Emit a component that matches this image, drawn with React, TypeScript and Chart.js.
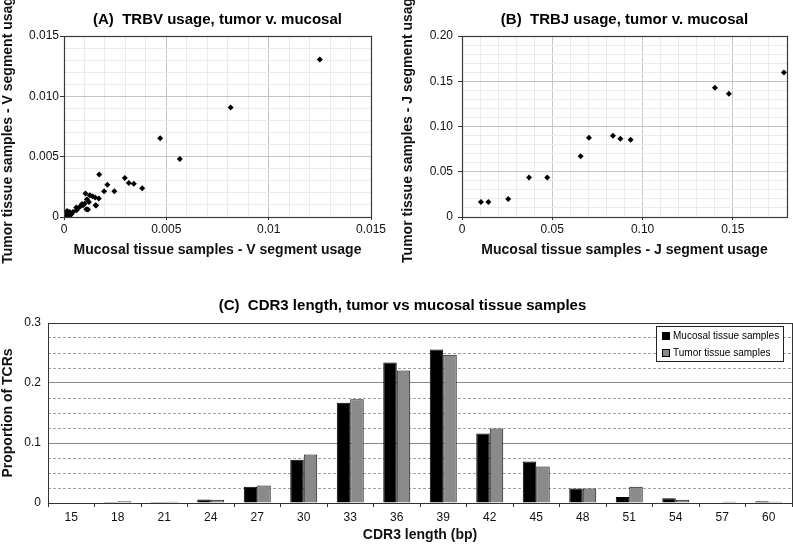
import React, { useEffect, useRef } from 'react';
import { Chart, registerables } from 'chart.js';

Chart.register(...registerables);

const FONT = '"Liberation Sans", Arial, Helvetica, sans-serif';
Chart.defaults.font.family = FONT;
Chart.defaults.color = '#111';

// ---------- Panel A: TRBV usage ----------
const A_TITLE = '(A)  TRBV usage, tumor v. mucosal';
const A_X_TITLE = 'Mucosal tissue samples - V segment usage';
const A_Y_TITLE = 'Tumor tissue samples - V segment usage';
const A_MUCOSAL_V = [
  0.0125, 0.00814, 0.0047, 0.00566, 0.00382, 0.00341, 0.00317, 0.00297, 0.00246, 0.00212,
  0.00196, 0.00172, 0.0017, 0.00152, 0.00157, 0.00139, 0.00126, 0.00105, 0.00112, 0.00101,
  0.00122, 0.00109, 0.00117, 0.00093, 0.0008, 0.00088, 0.00068, 0.00061, 0.0006, 0.00044,
  0.00028, 0.00036, 0.0002, 0.00012, 0.00024, 0.00003, 0.0, 0.00015, 0.00008, 0.00154,
];
const A_TUMOR_V = [
  0.01305, 0.00908, 0.00653, 0.00481, 0.00238, 0.00275, 0.00282, 0.00324, 0.00213, 0.00268,
  0.00213, 0.00352, 0.00153, 0.00161, 0.00095, 0.00172, 0.0018, 0.00194, 0.00147, 0.00111,
  0.00125, 0.00064, 0.00062, 0.00097, 0.00089, 0.00108, 0.0007, 0.00056, 0.00078, 0.00042,
  0.00042, 0.00022, 0.00022, 0.00033, 0.00006, 0.00006, 0.0, 0.0005, 0.00012, 0.00097,
];
const A_X_MAX = 0.015;
const A_Y_MAX = 0.015;
const A_GRID_STEP = 0.001;
const A_X_TICK_VALUES = [0, 0.005, 0.01, 0.015];
const A_X_TICK_LABELS = ['0', '0.005', '0.01', '0.015'];
const A_Y_TICK_VALUES = [0, 0.005, 0.01, 0.015];
const A_Y_TICK_LABELS = ['0', '0.005', '0.010', '0.015'];

// ---------- Panel B: TRBJ usage ----------
const B_TITLE = '(B)  TRBJ usage, tumor v. mucosal';
const B_X_TITLE = 'Mucosal tissue samples - J segment usage';
const B_Y_TITLE = 'Tumor tissue samples - J segment usage';
const B_MUCOSAL_J = [0.0105, 0.0146, 0.0256, 0.0371, 0.0472, 0.0657, 0.0703, 0.0836, 0.0877, 0.0934, 0.1401, 0.1478, 0.1783];
const B_TUMOR_J = [0.0166, 0.0166, 0.0199, 0.0436, 0.0436, 0.0672, 0.0875, 0.0897, 0.0864, 0.0853, 0.1428, 0.1362, 0.1598];
const B_X_MAX = 0.18;
const B_Y_MAX = 0.2;
const B_GRID_STEP = 0.01;
const B_X_TICK_VALUES = [0, 0.05, 0.1, 0.15];
const B_X_TICK_LABELS = ['0', '0.05', '0.10', '0.15'];
const B_Y_TICK_VALUES = [0, 0.05, 0.1, 0.15, 0.2];
const B_Y_TICK_LABELS = ['0', '0.05', '0.10', '0.15', '0.20'];

// ---------- Panel C: CDR3 length ----------
const C_TITLE = '(C)  CDR3 length, tumor vs mucosal tissue samples';
const C_X_TITLE = 'CDR3 length (bp)';
const C_Y_TITLE = 'Proportion of TCRs';
const CDR3_LENGTHS = ['15', '18', '21', '24', '27', '30', '33', '36', '39', '42', '45', '48', '51', '54', '57', '60'];
const MUCOSAL_LABEL = 'Mucosal tissue samples';
const TUMOR_LABEL = 'Tumor tissue samples';
const MUCOSAL_PROP = [0, 0.0015, 0.0015, 0.006, 0.027, 0.072, 0.167, 0.234, 0.256, 0.116, 0.069, 0.024, 0.01, 0.008, 0.001, 0.003];
const TUMOR_PROP = [0, 0.003, 0.002, 0.0055, 0.029, 0.081, 0.173, 0.221, 0.247, 0.124, 0.061, 0.024, 0.027, 0.0055, 0.002, 0.002];
const C_Y_MAX = 0.3;
const C_GRID_STEP = 0.025;
const C_Y_TICK_VALUES = [0, 0.1, 0.2, 0.3];
const C_Y_TICK_LABELS = ['0', '0.1', '0.2', '0.3'];

// ---------- helpers ----------
function ticksFromStep(max: number, step: number) {
  const out: { value: number }[] = [];
  const n = Math.round(max / step);
  for (let i = 0; i <= n; i++) out.push({ value: +(i * step).toFixed(6) });
  return out;
}
function findIdx(values: number[], v: number) {
  return values.findIndex((t) => Math.abs(t - v) < 1e-9);
}

const framePlugin = {
  id: 'frame',
  afterDatasetsDraw(chart: any, _args: any, opts: any) {
    const { ctx, chartArea } = chart;
    const { left, top, right, bottom } = chartArea;
    ctx.save();
    ctx.strokeStyle = opts.color || '#333';
    ctx.lineWidth = opts.width || 1;
    ctx.strokeRect(left + 0.5, top + 0.5, right - left, bottom - top);
    ctx.restore();
  },
};

const boxLegendPlugin = {
  id: 'boxLegend',
  afterDraw(chart: any, _args: any, opts: any) {
    if (!opts || !opts.display) return;
    const { ctx, chartArea } = chart;
    const w = opts.width;
    const h = opts.height;
    const x0 = Math.round(chartArea.right - opts.offsetRight - w);
    const y0 = Math.round(chartArea.top + opts.offsetTop);
    ctx.save();
    ctx.fillStyle = '#fff';
    ctx.fillRect(x0, y0, w, h);
    ctx.strokeStyle = '#222';
    ctx.lineWidth = 1;
    ctx.strokeRect(x0 + 0.5, y0 + 0.5, w, h);
    ctx.font = `${opts.fontSize}px ${FONT}`;
    ctx.textBaseline = 'middle';
    ctx.textAlign = 'left';
    chart.data.datasets.forEach((ds: any, i: number) => {
      const cy = Math.round(y0 + opts.firstRow + i * opts.rowGap);
      ctx.fillStyle = ds.backgroundColor;
      ctx.fillRect(x0 + 6, cy - 4, 8, 8);
      ctx.strokeStyle = '#000';
      ctx.strokeRect(x0 + 6.5, cy - 3.5, 7, 7);
      ctx.fillStyle = '#000';
      ctx.fillText(ds.label, x0 + 17, cy + 0.5);
    });
    ctx.restore();
  },
};

type ScatterParams = {
  xs: number[];
  ys: number[];
  title: string;
  xTitle: string;
  yTitle: string;
  xMax: number;
  yMax: number;
  step: number;
  xTickValues: number[];
  xTickLabels: string[];
  yTickValues: number[];
  yTickLabels: string[];
  yWidth: number;
  xHeight: number;
  padRight: number;
  yTickPadding: number;
};

function scatterConfig(p: ScatterParams): any {
  const majorColor = '#c4c4c4';
  const minorColor = '#ebebeb';
  return {
    type: 'scatter',
    data: {
      datasets: [
        {
          data: p.xs.map((x, i) => ({ x, y: p.ys[i] })),
          pointStyle: 'rectRot',
          pointRadius: 3,
          pointBorderWidth: 0,
          backgroundColor: '#000',
          borderColor: '#000',
        },
      ],
    },
    plugins: [framePlugin],
    options: {
      responsive: false,
      animation: false,
      layout: { padding: { left: 0, right: p.padRight, top: 0, bottom: 0 } },
      plugins: {
        legend: { display: false },
        tooltip: { enabled: false },
        title: {
          display: true,
          text: p.title,
          fullSize: false,
          color: '#000',
          font: { family: FONT, size: 15, weight: 'bold' },
          padding: { top: 11, bottom: 7 },
        },
        frame: { color: '#3a3a3a', width: 1.2 },
      },
      scales: {
        x: {
          type: 'linear',
          min: 0,
          max: p.xMax,
          afterBuildTicks: (s: any) => {
            s.ticks = ticksFromStep(p.xMax, p.step);
          },
          afterFit: (s: any) => {
            s.height = p.xHeight;
          },
          border: { display: false },
          grid: {
            color: (c: any) => (c.tick && findIdx(p.xTickValues, c.tick.value) >= 0 ? majorColor : minorColor),
            tickColor: (c: any) => (c.tick && findIdx(p.xTickValues, c.tick.value) >= 0 ? '#333' : 'rgba(0,0,0,0)'),
            tickLength: 3,
          },
          ticks: {
            autoSkip: false,
            maxRotation: 0,
            padding: 2,
            color: '#111',
            font: { family: FONT, size: 12 },
            callback: (v: any) => {
              const i = findIdx(p.xTickValues, Number(v));
              return i >= 0 ? p.xTickLabels[i] : '';
            },
          },
          title: {
            display: true,
            text: p.xTitle,
            color: '#111',
            font: { family: FONT, size: 14, weight: 'bold' },
            padding: { top: 0, bottom: 11.6 },
          },
        },
        y: {
          type: 'linear',
          min: 0,
          max: p.yMax,
          afterBuildTicks: (s: any) => {
            s.ticks = ticksFromStep(p.yMax, p.step);
          },
          afterFit: (s: any) => {
            s.width = p.yWidth;
          },
          border: { display: false },
          grid: {
            color: (c: any) => (c.tick && findIdx(p.yTickValues, c.tick.value) >= 0 ? majorColor : minorColor),
            tickColor: (c: any) => (c.tick && findIdx(p.yTickValues, c.tick.value) >= 0 ? '#333' : 'rgba(0,0,0,0)'),
            tickLength: 4,
          },
          ticks: {
            autoSkip: false,
            padding: p.yTickPadding,
            color: '#111',
            font: { family: FONT, size: 12 },
            callback: (v: any) => {
              const i = findIdx(p.yTickValues, Number(v));
              return i >= 0 ? p.yTickLabels[i] : '';
            },
          },
          title: {
            display: true,
            text: p.yTitle,
            color: '#111',
            font: { family: FONT, size: 14, weight: 'bold' },
            padding: { top: 0, bottom: 0 },
          },
        },
      },
    },
  };
}

function barConfig(): any {
  const isMajor = (c: any) => c.tick && findIdx(C_Y_TICK_VALUES, c.tick.value) >= 0;
  return {
    type: 'bar',
    data: {
      labels: CDR3_LENGTHS,
      datasets: [
        { label: MUCOSAL_LABEL, data: MUCOSAL_PROP, backgroundColor: '#000', borderColor: '#000', borderWidth: 1 },
        { label: TUMOR_LABEL, data: TUMOR_PROP, backgroundColor: '#8a8a8a', borderColor: '#111', borderWidth: 1 },
      ],
    },
    plugins: [framePlugin, boxLegendPlugin],
    options: {
      responsive: false,
      animation: false,
      datasets: { bar: { categoryPercentage: 0.58, barPercentage: 1 } },
      layout: { padding: { left: 13, right: 1, top: 0, bottom: 0 } },
      plugins: {
        legend: { display: false },
        tooltip: { enabled: false },
        title: {
          display: true,
          text: C_TITLE,
          color: '#000',
          font: { family: FONT, size: 15, weight: 'bold' },
          padding: { top: 25, bottom: 8 },
        },
        frame: { color: '#333', width: 1 },
        boxLegend: {
          display: true,
          width: 127,
          height: 35,
          offsetRight: 9,
          offsetTop: 3,
          firstRow: 9.7,
          rowGap: 17,
          fontSize: 10,
        },
      },
      scales: {
        x: {
          afterFit: (s: any) => {
            s.height = 41;
          },
          border: { display: false },
          grid: { offset: true, drawOnChartArea: false, tickLength: 4, tickColor: '#333' },
          ticks: { padding: 3, color: '#111', font: { family: FONT, size: 12 }, maxRotation: 0, autoSkip: false },
          title: {
            display: true,
            text: C_X_TITLE,
            color: '#111',
            font: { family: FONT, size: 14, weight: 'bold' },
            padding: { top: 0, bottom: 0 },
          },
        },
        y: {
          min: 0,
          max: C_Y_MAX,
          afterBuildTicks: (s: any) => {
            s.ticks = ticksFromStep(C_Y_MAX, C_GRID_STEP);
          },
          afterFit: (s: any) => {
            s.width = 35;
          },
          border: { display: false, dash: (c: any) => (isMajor(c) ? [] : [3, 2]) },
          grid: {
            color: (c: any) => (isMajor(c) ? '#8a8a8a' : '#a0a0a0'),
            drawTicks: false,
            tickLength: 0,
          },
          ticks: {
            autoSkip: false,
            padding: 7,
            color: '#111',
            font: { family: FONT, size: 12 },
            callback: (v: any) => {
              const i = findIdx(C_Y_TICK_VALUES, Number(v));
              return i >= 0 ? C_Y_TICK_LABELS[i] : '';
            },
          },
          title: {
            display: true,
            text: C_Y_TITLE,
            color: '#111',
            font: { family: FONT, size: 14, weight: 'bold' },
            padding: { top: -13, bottom: 0 },
          },
        },
      },
    },
  };
}

function ChartCanvas(props: { make: () => any; left: number; top: number; width: number; height: number }) {
  const ref = useRef<HTMLCanvasElement>(null);
  useEffect(() => {
    const chart = new Chart(ref.current as HTMLCanvasElement, props.make());
    return () => chart.destroy();
  }, []);
  return (
    <canvas
      ref={ref}
      width={props.width}
      height={props.height}
      style={{ position: 'absolute', left: props.left, top: props.top, width: props.width, height: props.height }}
    />
  );
}

export default function App() {
  return (
    <div style={{ position: 'absolute', left: 0, top: 0, width: 793, height: 544, background: '#fff', overflow: 'hidden' }}>
      <ChartCanvas
        left={0}
        top={0}
        width={400}
        height={270}
        make={() =>
          scatterConfig({
            xs: A_MUCOSAL_V,
            ys: A_TUMOR_V,
            title: A_TITLE,
            xTitle: A_X_TITLE,
            yTitle: A_Y_TITLE,
            xMax: A_X_MAX,
            yMax: A_Y_MAX,
            step: A_GRID_STEP,
            xTickValues: A_X_TICK_VALUES,
            xTickLabels: A_X_TICK_LABELS,
            yTickValues: A_Y_TICK_VALUES,
            yTickLabels: A_Y_TICK_LABELS,
            yWidth: 64,
            xHeight: 53,
            padRight: 29,
            yTickPadding: 1,
          })
        }
      />
      <ChartCanvas
        left={400}
        top={0}
        width={393}
        height={270}
        make={() =>
          scatterConfig({
            xs: B_MUCOSAL_J,
            ys: B_TUMOR_J,
            title: B_TITLE,
            xTitle: B_X_TITLE,
            yTitle: B_Y_TITLE,
            xMax: B_X_MAX,
            yMax: B_Y_MAX,
            step: B_GRID_STEP,
            xTickValues: B_X_TICK_VALUES,
            xTickLabels: B_X_TICK_LABELS,
            yTickValues: B_Y_TICK_VALUES,
            yTickLabels: B_Y_TICK_LABELS,
            yWidth: 62,
            xHeight: 53,
            padRight: 6,
            yTickPadding: 5,
          })
        }
      />
      <ChartCanvas left={0} top={272} width={793} height={272} make={barConfig} />
    </div>
  );
}
